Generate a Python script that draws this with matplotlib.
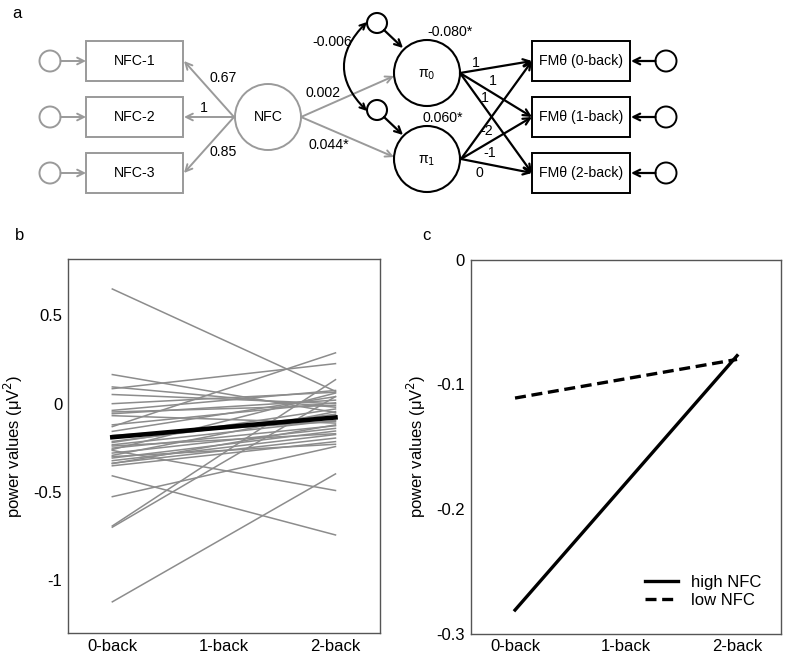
import matplotlib
matplotlib.use("Agg")
import matplotlib.pyplot as plt
from matplotlib.patches import Circle, Rectangle, FancyArrowPatch

plt.rcParams["font.family"] = ["Liberation Sans", "DejaVu Sans"]

# ---- data -------------------------------------------------------------
conditions = ["0-back", "1-back", "2-back"]

# panel b: individual linear trajectories (value at 0-back, value at 2-back)
subj_start = [0.65, 0.165, 0.095, 0.085, 0.052, 0.0, -0.038, -0.047, -0.057,
              -0.068, -0.13, -0.157, -0.214, -0.233, -0.252, -0.265, -0.28,
              -0.293, -0.308, -0.323, -0.337, -0.352, -0.409, -0.527, -0.693,
              -0.70, -1.123, -0.22, -0.24, -0.30, -0.18, -0.12, -0.26, -0.34]
subj_end = [0.07, -0.05, -0.02, 0.227, 0.0, 0.065, 0.075, -0.01, 0.02,
            -0.11, 0.288, 0.04, -0.06, -0.095, -0.125, -0.492, -0.14,
            -0.045, -0.155, -0.175, -0.195, -0.215, -0.744, -0.243, 0.136,
            0.04, -0.398, -0.03, -0.17, -0.23, -0.10, 0.005, 0.06, -0.12]
mean_start, mean_end = -0.19, -0.078

# panel c: model-implied trajectories
high_nfc = [-0.281, -0.077]
low_nfc = [-0.111, -0.080]

# panel a: path diagram labels
nfc_loadings = ["0.67", "1", "0.85"]
pi0_loadings = ["1", "1", "1"]
pi1_loadings = ["-2", "-1", "0"]

GRAY = "#9a9a9a"
FS = 12
DFS = 10.2

fig = plt.figure(figsize=(7.87, 6.54), dpi=100)

# ---- panel a: path diagram (pixel coordinates) ------------------------
ax = fig.add_axes([0, 1 - 210 / 654, 1, 210 / 654])
ax.set_xlim(0, 787)
ax.set_ylim(210, 0)
ax.axis("off")


def arrow(p0, p1, color, lw=1.4, style="->"):
    ax.add_patch(FancyArrowPatch(p0, p1, arrowstyle=style, color=color, lw=lw,
                                 mutation_scale=12, shrinkA=0, shrinkB=0))


row_y = [61, 117, 173]
for i, y in enumerate(row_y):
    # NFC indicators
    ax.add_patch(Circle((50, y), 10.5, fill=False, ec=GRAY, lw=1.4))
    arrow((60.5, y), (86, y), GRAY)
    ax.add_patch(Rectangle((86, y - 20), 97, 40, fill=False, ec=GRAY, lw=1.4))
    ax.text(134.5, y, f"NFC-{i + 1}", ha="center", va="center", fontsize=DFS)
    arrow((234, 117), (184, y), GRAY)
    # FM theta indicators
    ax.add_patch(Rectangle((532, y - 20), 98, 40, fill=False, ec="black", lw=1.4))
    ax.text(581, y, f"FM\u03b8 ({i}-back)", ha="center", va="center", fontsize=DFS)
    ax.add_patch(Circle((666, y), 10.5, fill=False, ec="black", lw=1.4))
    arrow((655.5, y), (631, y), "black", lw=1.6)
    arrow((460, 73), (532, y), "black", lw=1.6)
    arrow((461, 159), (532, y), "black", lw=1.6)

for lab, (x, y) in zip(nfc_loadings, [(223, 78), (204, 108), (223, 152)]):
    ax.text(x, y, lab, ha="center", va="center", fontsize=DFS)
for lab, (x, y) in zip(pi0_loadings, [(476, 63), (493, 81), (485, 98)]):
    ax.text(x, y, lab, ha="center", va="center", fontsize=DFS)
for lab, (x, y) in zip(pi1_loadings, [(487, 131), (490, 153), (479, 173)]):
    ax.text(x, y, lab, ha="center", va="center", fontsize=DFS)

ax.add_patch(Circle((268, 117), 33, fill=False, ec=GRAY, lw=1.4))
ax.text(268, 117, "NFC", ha="center", va="center", fontsize=DFS)
arrow((301, 117), (394, 76), GRAY)
arrow((301, 117), (394, 157), GRAY)
ax.text(323, 93, "0.002", ha="center", va="center", fontsize=DFS)
ax.text(329, 145, "0.044*", ha="center", va="center", fontsize=DFS)

for cy, sub in [(73, "0"), (159, "1")]:
    ax.add_patch(Circle((427, cy), 33, fill=False, ec="black", lw=1.5))
    ax.text(427, cy + 2, f"\u03c0$_{sub}$", ha="center", va="center", fontsize=DFS)
for cy in [23, 110]:
    ax.add_patch(Circle((377, cy), 10, fill=False, ec="black", lw=1.5))
    arrow((384, cy + 7), (403, cy + 25), "black", lw=1.6)
ax.add_patch(FancyArrowPatch((367, 22), (367, 111), arrowstyle="<->",
                             connectionstyle="arc3,rad=0.5", color="black",
                             lw=1.5, mutation_scale=10, shrinkA=0, shrinkB=0))
ax.text(332, 42, "-0.006", ha="center", va="center", fontsize=DFS)
ax.text(450, 32, "-0.080*", ha="center", va="center", fontsize=DFS)
ax.text(443, 118, "0.060*", ha="center", va="center", fontsize=DFS)

fig.text(17 / 787, 1 - 13 / 654, "a", ha="center", va="center", fontsize=FS)
fig.text(20 / 787, 1 - 236 / 654, "b", ha="center", va="center", fontsize=FS)
fig.text(426 / 787, 1 - 236 / 654, "c", ha="center", va="center", fontsize=FS)


def style(a):
    for s in a.spines.values():
        s.set_color("#555555")
        s.set_linewidth(1.0)
    a.tick_params(length=0, labelsize=FS, pad=4)
    a.set_xlim(-0.4, 2.4)
    a.set_xticks([0, 1, 2], conditions)
    a.set_ylabel("power values (\u03bcV$^{2}$)", fontsize=FS, labelpad=6)


# ---- panel b ------------------------------------------------------------
axb = fig.add_axes([0.086, 0.032, 0.397, 0.572])
for s0, s2 in zip(subj_start, subj_end):
    axb.plot([0, 2], [s0, s2], color="#8c8c8c", lw=1.1)
axb.plot([0, 2], [mean_start, mean_end], color="black", lw=3.3)
style(axb)
axb.set_ylim(-1.30, 0.82)
axb.set_yticks([0.5, 0, -0.5, -1], ["0.5", "0", "-0.5", "-1"])

# ---- panel c ------------------------------------------------------------
axc = fig.add_axes([0.598, 0.031, 0.395, 0.572])
axc.plot([0, 2], high_nfc, color="black", lw=2.4, label="high NFC")
axc.plot([0, 2], low_nfc, color="black", lw=2.4, ls=(0, (3.3, 1.7)), label="low NFC")
style(axc)
axc.set_ylim(-0.3, 0)
axc.set_yticks([0, -0.1, -0.2, -0.3], ["0", "-0.1", "-0.2", "-0.3"])
axc.legend(loc="lower right", bbox_to_anchor=(0.985, 0.03), frameon=False,
           fontsize=FS, handlelength=2.0, labelspacing=0.15)

fig.savefig("out.png", dpi=100)
